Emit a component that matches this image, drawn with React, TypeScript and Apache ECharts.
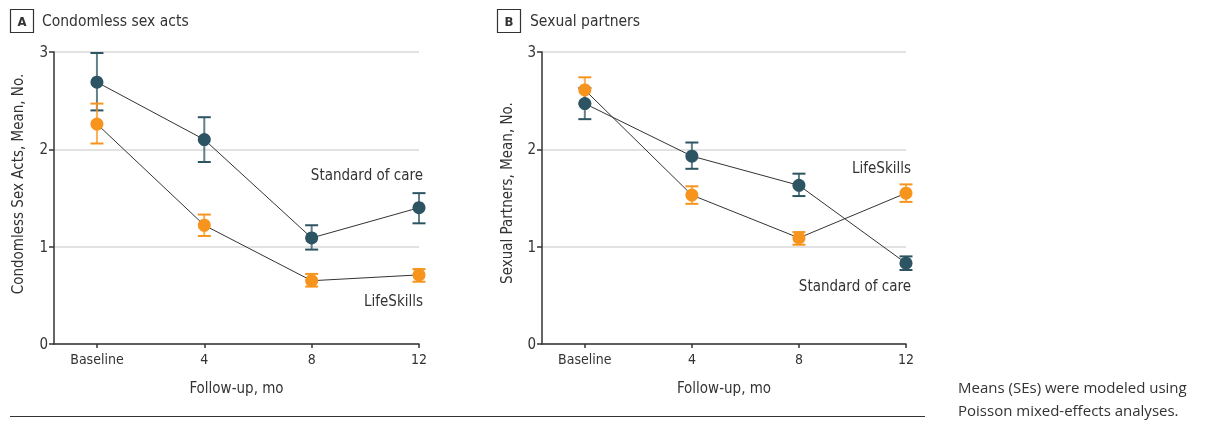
import React, { useEffect, useRef } from "react";
import * as echarts from "echarts";

const months = [0, 4, 8, 12];
const tickLabels = ["Baseline", "4", "8", "12"];

// Panel A: Condomless sex acts
const aSocMean = [2.69, 2.1, 1.09, 1.4];
const aSocLo = [2.4, 1.87, 0.97, 1.24];
const aSocHi = [2.99, 2.33, 1.22, 1.55];
const aLsMean = [2.26, 1.22, 0.65, 0.71];
const aLsLo = [2.06, 1.11, 0.59, 0.64];
const aLsHi = [2.47, 1.33, 0.72, 0.77];

// Panel B: Sexual partners
const bSocMean = [2.47, 1.93, 1.63, 0.83];
const bSocLo = [2.31, 1.8, 1.52, 0.76];
const bSocHi = [2.63, 2.07, 1.75, 0.9];
const bLsMean = [2.61, 1.53, 1.09, 1.55];
const bLsLo = [2.47, 1.44, 1.02, 1.46];
const bLsHi = [2.74, 1.62, 1.15, 1.64];

const DARK = "#2d5463";
const ORANGE = "#f7941d";
const FONT = "'Liberation Sans Narrow', 'DejaVu Sans Condensed', 'Liberation Sans', sans-serif";

function errSeries(idx: number, lo: number[], hi: number[], color: string) {
  return {
    type: "custom",
    xAxisIndex: idx,
    yAxisIndex: idx,
    silent: true,
    z: 2,
    data: months.map((m, i) => [m, lo[i], hi[i]]),
    renderItem: (params: any, api: any) => {
      const x = api.value(0);
      const top = api.coord([x, api.value(2)]);
      const bot = api.coord([x, api.value(1)]);
      const hw = 6.5;
      const st = { stroke: color, lineWidth: 2 };
      return {
        type: "group",
        children: [
          { type: "line", shape: { x1: top[0], y1: top[1], x2: bot[0], y2: bot[1] }, style: { stroke: color, lineWidth: 2, opacity: 0.75 } },
          { type: "line", shape: { x1: top[0] - hw, y1: top[1], x2: top[0] + hw, y2: top[1] }, style: st },
          { type: "line", shape: { x1: bot[0] - hw, y1: bot[1], x2: bot[0] + hw, y2: bot[1] }, style: st },
        ],
      };
    },
  };
}

function lineSeries(idx: number, name: string, mean: number[], color: string) {
  return {
    type: "line",
    name,
    xAxisIndex: idx,
    yAxisIndex: idx,
    z: 3,
    data: months.map((m, i) => [m, mean[i]]),
    symbol: "circle",
    symbolSize: 13,
    itemStyle: { color },
    lineStyle: { color: "#333", width: 1 },
  };
}

function xAxis(idx: number) {
  return {
    type: "value",
    gridIndex: idx,
    min: -1.6,
    max: 12,
    axisLine: { show: true, onZero: false, lineStyle: { color: "#333", width: 1.5 } },
    axisTick: { show: true, customValues: months, length: 4, lineStyle: { color: "#333", width: 1.5 } },
    axisLabel: {
      customValues: months,
      formatter: (v: number) => tickLabels[months.indexOf(v)] ?? "",
      color: "#333",
      fontSize: 14,
      fontFamily: FONT,
      margin: 8,
    },
    splitLine: { show: false },
    name: "Follow-up, mo",
    nameLocation: "middle",
    nameGap: 36,
    nameTextStyle: { color: "#333", fontSize: 15, fontFamily: FONT },
  };
}

function yAxis(idx: number) {
  return {
    type: "value",
    gridIndex: idx,
    min: 0,
    max: 3,
    interval: 1,
    axisLine: { show: true, onZero: false, lineStyle: { color: "#333", width: 1.5 } },
    axisTick: { show: true, length: 5, lineStyle: { color: "#333", width: 1.5 } },
    axisLabel: { color: "#333", fontSize: 15, fontFamily: FONT, margin: 6 },
    splitLine: { show: true, lineStyle: { color: "#d9d9d9", width: 1.5 } },
  };
}

export default function App() {
  const ref = useRef<HTMLDivElement>(null);
  useEffect(() => {
    const chart = echarts.init(ref.current!, null, { renderer: "svg" });
    const txt = (x: number, y: number, text: string, extra: any = {}) => ({
      type: "text",
      x,
      y,
      style: { text, fill: "#333", fontSize: 15, fontFamily: FONT, ...extra },
    });
    chart.setOption({
      animation: false,
      grid: [
        { left: 54, top: 52, width: 365, height: 292 },
        { left: 542, top: 52, width: 364, height: 292 },
      ],
      xAxis: [xAxis(0), xAxis(1)],
      yAxis: [yAxis(0), yAxis(1)],
      series: [
        errSeries(0, aSocLo, aSocHi, DARK),
        errSeries(0, aLsLo, aLsHi, ORANGE),
        lineSeries(0, "Standard of care", aSocMean, DARK),
        lineSeries(0, "LifeSkills", aLsMean, ORANGE),
        errSeries(1, bSocLo, bSocHi, DARK),
        errSeries(1, bLsLo, bLsHi, ORANGE),
        lineSeries(1, "Standard of care", bSocMean, DARK),
        lineSeries(1, "LifeSkills", bLsMean, ORANGE),
      ],
      graphic: [
        { type: "rect", shape: { x: 10.5, y: 9.5, width: 23, height: 23 }, style: { fill: "none", stroke: "#333", lineWidth: 1.2 } },
        txt(22, 21, "A", { fontWeight: "bold", fontSize: 13, align: "center", verticalAlign: "middle" }),
        txt(42, 21, "Condomless sex acts", { fontSize: 15.5, verticalAlign: "middle" }),
        { type: "rect", shape: { x: 497.5, y: 9.5, width: 23, height: 23 }, style: { fill: "none", stroke: "#333", lineWidth: 1.2 } },
        txt(509, 21, "B", { fontWeight: "bold", fontSize: 13, align: "center", verticalAlign: "middle" }),
        txt(530, 21, "Sexual partners", { fontSize: 15.5, verticalAlign: "middle" }),
        { type: "text", x: 18, y: 184, rotation: Math.PI / 2, style: { text: "Condomless Sex Acts, Mean, No.", fill: "#333", fontSize: 15, fontFamily: FONT, align: "center", verticalAlign: "middle" } },
        { type: "text", x: 507, y: 193, rotation: Math.PI / 2, style: { text: "Sexual Partners, Mean, No.", fill: "#333", fontSize: 15, fontFamily: FONT, align: "center", verticalAlign: "middle" } },
        txt(423, 175, "Standard of care", { align: "right", verticalAlign: "middle" }),
        txt(423, 301, "LifeSkills", { align: "right", verticalAlign: "middle" }),
        txt(911, 168, "LifeSkills", { align: "right", verticalAlign: "middle" }),
        txt(911, 286, "Standard of care", { align: "right", verticalAlign: "middle" }),
        { type: "line", shape: { x1: 10, y1: 416.5, x2: 925, y2: 416.5 }, style: { stroke: "#333", lineWidth: 1 } },
        txt(958, 387, "Means (SEs) were modeled using", { fontSize: 15, verticalAlign: "middle", fontFamily: "'Open Sans', 'Noto Sans', sans-serif" }),
        txt(958, 410, "Poisson mixed-effects analyses.", { fontSize: 15, verticalAlign: "middle", fontFamily: "'Open Sans', 'Noto Sans', sans-serif" }),
      ],
    });
    return () => chart.dispose();
  }, []);
  return <div ref={ref} style={{ position: "fixed", left: 0, top: 0, width: 1212, height: 421 }} />;
}
